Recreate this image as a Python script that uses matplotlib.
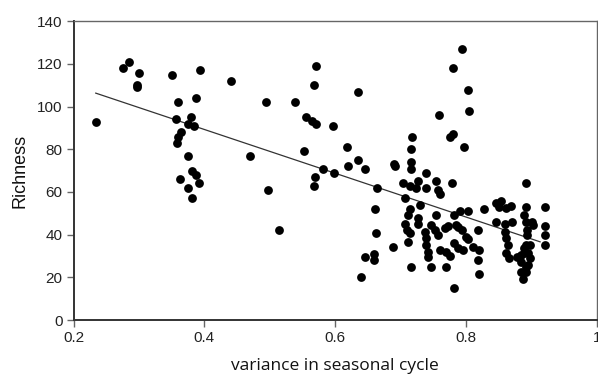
import numpy as np
import matplotlib
matplotlib.use("Agg")
import matplotlib.pyplot as plt

# values
variance = [
  0.234, 0.275, 0.285, 0.300, 0.297, 0.297, 0.350, 0.393, 0.441, 0.359,
  0.387, 0.356, 0.379, 0.375, 0.384, 0.364, 0.360, 0.358, 0.375, 0.470,
  0.381, 0.387, 0.363, 0.392, 0.375, 0.381,
  0.570, 0.568, 0.635, 0.494, 0.539, 0.555, 0.565, 0.570, 0.596, 0.759,
  0.552, 0.618, 0.717, 0.715, 0.690, 0.692, 0.716, 0.716, 0.635, 0.646,
  0.619, 0.581, 0.598, 0.569, 0.568, 0.497, 0.514, 0.664, 0.660, 0.662,
  0.646, 0.659, 0.659, 0.639, 0.688, 0.715, 0.746,
  0.793, 0.780, 0.803, 0.805, 0.776, 0.780, 0.796, 0.738,
  0.704, 0.714, 0.724, 0.726, 0.738, 0.754, 0.757, 0.760, 0.779, 0.706,
  0.729, 0.714, 0.711, 0.726, 0.726, 0.754, 0.706, 0.709, 0.747, 0.752,
  0.767, 0.772, 0.785, 0.782, 0.714, 0.711, 0.737, 0.739, 0.739, 0.742,
  0.742, 0.757, 0.760, 0.770, 0.775, 0.782, 0.770, 0.781,
  0.892, 0.845, 0.854, 0.851, 0.861, 0.869, 0.828, 0.790, 0.803, 0.845,
  0.859, 0.870, 0.892, 0.889, 0.892, 0.818, 0.859, 0.787, 0.793, 0.800,
  0.803, 0.787, 0.795, 0.810, 0.820, 0.818, 0.820, 0.861, 0.864, 0.861,
  0.866, 0.877, 0.884, 0.889, 0.892, 0.884, 0.892, 0.920, 0.900, 0.902,
  0.920, 0.920, 0.920, 0.893, 0.893, 0.897, 0.889, 0.894, 0.897, 0.894,
  0.892, 0.887, 0.884,
]
richness = [
  93, 118, 121, 116, 110, 109, 115, 117, 112, 102,
  104, 94, 95, 92, 91, 88, 86, 83, 77, 77,
  70, 68, 66, 64, 62, 57,
  119, 110, 107, 102, 102, 95, 93.4, 92, 91, 96,
  79, 81, 86, 80, 73, 72, 74, 71, 75, 71,
  72, 71, 69, 67, 63, 61, 42, 62, 52, 41,
  29.4, 31, 28, 20, 34, 25, 25,
  127, 118, 108, 98, 86, 87, 81, 69,
  64, 63, 62, 65, 62, 65, 61, 59, 64, 57,
  54, 52, 49, 48, 45, 49, 45, 42, 44.5, 42,
  43, 44, 44.5, 49, 40.6, 36.7, 41.4, 38.3, 35.2, 32,
  29.7, 39.8, 33, 32, 30, 36, 25, 15,
  64, 55, 56, 53, 52.4, 53.6, 52, 51, 51, 46,
  45, 46, 53, 49, 46, 42, 41.4, 43.7, 42, 39,
  38, 33.6, 32.8, 34.4, 32.8, 28, 21.4, 38.3, 35.2, 31.3,
  29, 29.7, 27.3, 31.3, 35.2, 22.6, 25, 53, 46, 44.5,
  44, 40, 35, 42, 40, 35.2, 33.6, 31.3, 29, 25.8,
  22.6, 19, 30.5,
]
fit_x = [0.234, 0.913]

x_ticks = [0.2, 0.4, 0.6, 0.8, 1.0]
x_tick_labels = ["0.2", "0.4", "0.6", "0.8", "1"]
y_ticks = [0, 20, 40, 60, 80, 100, 120, 140]

plt.rcParams["font.family"] = ["Liberation Sans", "DejaVu Sans"]

fig = plt.figure(figsize=(5.98, 3.78), dpi=100)
ax = fig.add_axes([73.5 / 598, 1 - 320 / 378, (597 - 73.5) / 598,
                   (320 - 21.3) / 378])

ax.scatter(variance, richness, s=40, color="black", linewidths=0, zorder=3)

# least squares line through the points
slope, intercept = np.polyfit(variance, richness, 1)
fx = np.array(fit_x)
ax.plot(fx, slope * fx + intercept, color="#333333", linewidth=0.9, zorder=2)

ax.set_xlim(0.2, 1.0)
ax.set_ylim(0, 140)
ax.set_xticks(x_ticks)
ax.set_xticklabels(x_tick_labels)
ax.set_yticks(y_ticks)
ax.tick_params(axis="both", direction="out", length=5, width=1,
               color="#666666", labelsize=11, labelcolor="#222222", pad=3)

for side in ["left", "bottom"]:
  ax.spines[side].set_linewidth(1.4)
  ax.spines[side].set_color("#333333")
for side in ["top", "right"]:
  ax.spines[side].set_linewidth(1.0)
  ax.spines[side].set_color("#666666")

ax.set_ylabel("Richness", fontsize=13, color="#111111", labelpad=6)
ax.set_xlabel("variance in seasonal cycle", fontsize=12.5, color="#111111",
              family=["Open Sans", "DejaVu Sans"], labelpad=9)

fig.savefig("out.png", dpi=100)
